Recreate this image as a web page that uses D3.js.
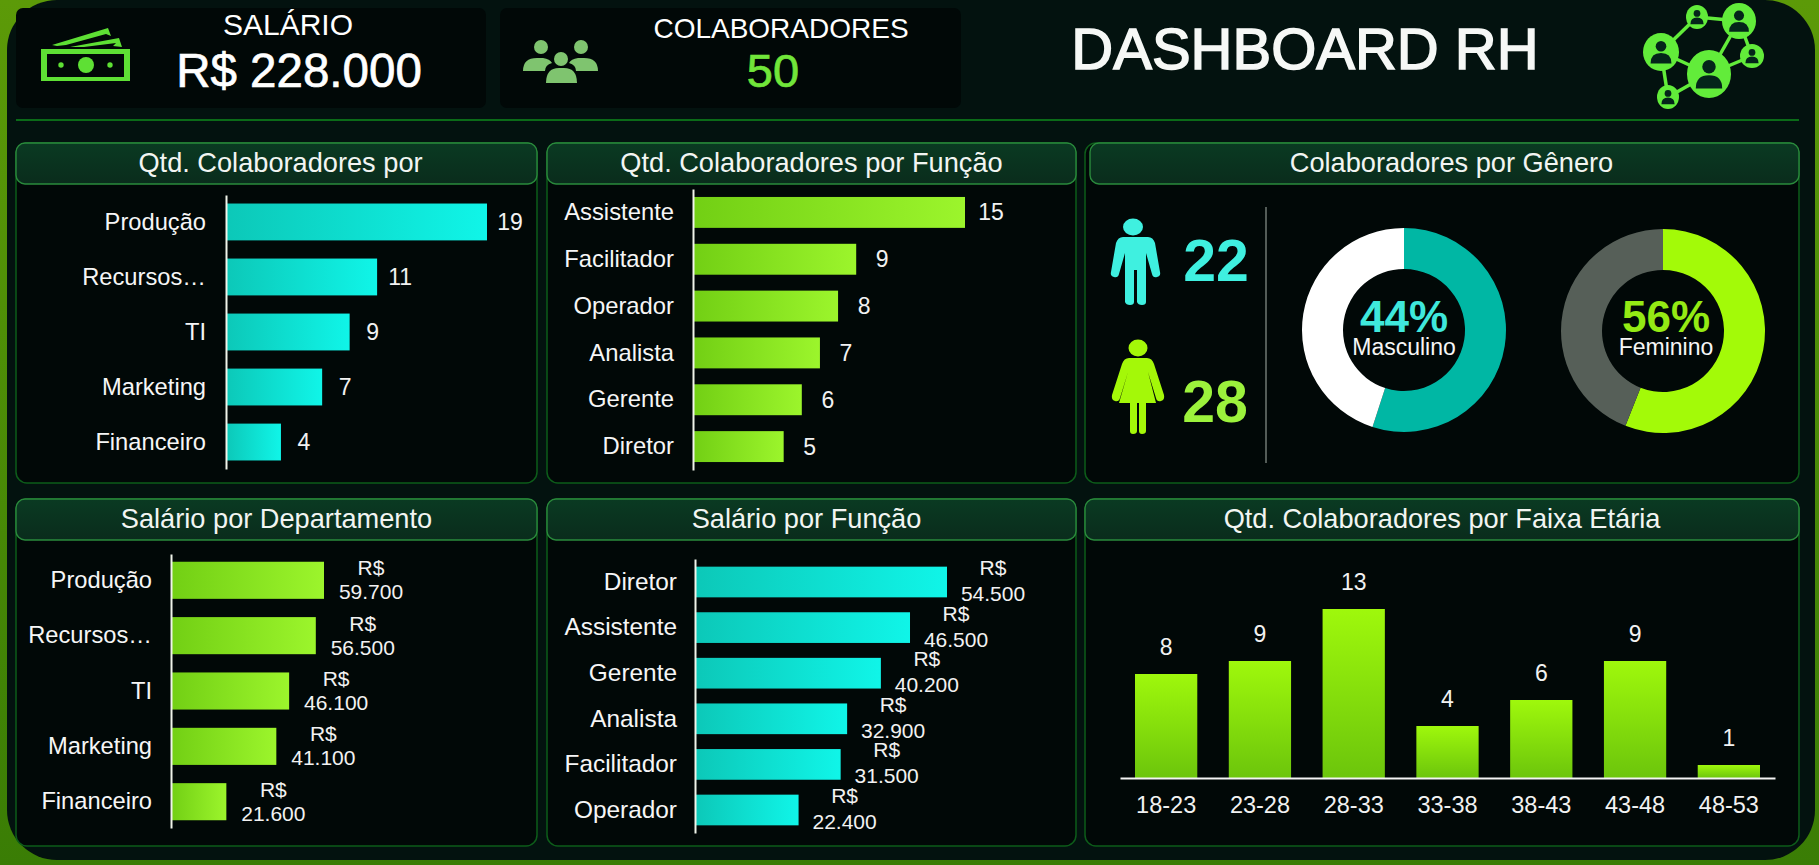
<!DOCTYPE html>
<html lang="pt-BR"><head><meta charset="utf-8"><title>Dashboard RH</title>
<script src="https://cdn.jsdelivr.net/npm/d3@7/dist/d3.min.js"></script>
<style>html,body{margin:0;padding:0;background:#3f7d06;overflow:hidden}svg{display:block}text{font-family:"Liberation Sans",Arial,sans-serif;fill:#fff}</style>
</head><body><svg id="c" width="1819" height="865"></svg>
<script>
// ---- data ----
const departamentos = ["Produção","Recursos…","TI","Marketing","Financeiro"];
const qtdDepartamento = [19,11,9,7,4];
const funcoesQtd = ["Assistente","Facilitador","Operador","Analista","Gerente","Diretor"];
const qtdFuncao = [15,9,8,7,6,5];
const salarioDepartamento = [59700,56500,46100,41100,21600];
const funcoesSalario = ["Diretor","Assistente","Gerente","Analista","Facilitador","Operador"];
const salarioFuncao = [54500,46500,40200,32900,31500,22400];
const faixas = ["18-23","23-28","28-33","33-38","38-43","43-48","48-53"];
const qtdFaixa = [8,9,13,4,6,9,1];
const donutMasculino = [55,45];
const donutFeminino = [56,44];
const totalMasculino = 22, totalFeminino = 28;
const pctMasculino = "44%", pctFeminino = "56%";
const totalSalario = "R$ 228.000", totalColab = "50";

const svg = d3.select("#c");
const defs = svg.append("defs");
function lin(id,a,b,vertical){const g=defs.append("linearGradient").attr("id",id).attr("x1",0).attr("y1",0).attr("x2",vertical?0:1).attr("y2",vertical?1:0);
 g.append("stop").attr("offset",0).attr("stop-color",a);g.append("stop").attr("offset",1).attr("stop-color",b);}
lin("gTeal","#0cc8b8","#10f5e8");lin("gLime","#72cf14","#9cf52c");lin("gCol","#9ff80c","#6cc50c",true);
lin("gBg","#5c9a08","#3a7d05",true);lin("gHead","#0a3a22","#0a2c1c",true);

svg.append("rect").attr("width",1819).attr("height",865).attr("fill","url(#gBg)");
svg.append("rect").attr("x",7).attr("y",0).attr("width",1808).attr("height",860).attr("rx",50).attr("fill","#03120f");

function card(x,y,w,h){svg.append("rect").attr("x",x).attr("y",y).attr("width",w).attr("height",h).attr("rx",7).attr("fill","#010807");}
card(16,8,470,100);card(500,8,461,100);
svg.append("line").attr("x1",16).attr("x2",1799).attr("y1",120).attr("y2",120).attr("stroke","#0f8a1c").attr("stroke-width",1.6);

function txt(s,x,y,size,col,anchor,weight){return svg.append("text").attr("x",x).attr("y",y).attr("font-size",size).attr("text-anchor",anchor||"middle").attr("font-weight",weight||400).style("fill",col||"#fff").text(s);}
txt("SALÁRIO",288,35,30);
txt(totalSalario,299,87,47.5).style("stroke","#fff").style("stroke-width",.7);
txt("COLABORADORES",781,38,28);
txt(totalColab,773,87,47,"#71e63a").style("stroke","#71e63a").style("stroke-width",.7);
txt("DASHBOARD RH",1305,69,58,"#f6f8f6").style("stroke","#f6f8f6").style("stroke-width",1.5);

function panel(x,y,w,h,hx,hw,title,dx){
 svg.append("rect").attr("x",x).attr("y",y).attr("width",w).attr("height",h).attr("rx",11).attr("fill","#010807").attr("stroke","#0d5c1a").attr("stroke-width",1.5);
 svg.append("rect").attr("x",hx).attr("y",y).attr("width",hw).attr("height",41).attr("rx",9).attr("fill","url(#gHead)").attr("stroke","#2a8a3c").attr("stroke-width",1.4);
 txt(title,hx+hw/2+dx,y+29,27.2,"#f2f5f2");
}
panel(16,143,521,340,16,521,"Qtd. Colaboradores por",4);
panel(547,143,529,340,547,529,"Qtd. Colaboradores por Função",0);
panel(1085,143,714,340,1090,709,"Colaboradores por Gênero",7);
panel(16,499,521,347,16,521,"Salário por Departamento",0);
panel(547,499,529,347,547,529,"Salário por Função",-5);
panel(1085,499,714,347,1085,714,"Qtd. Colaboradores por Faixa Etária",0);

const brl = v => d3.format(",")(v).replace(/,/g,".");
function hbar(o){
 const y=d3.scaleBand().domain(o.cats).range(o.yr).paddingInner(o.pi).paddingOuter(o.po);
 const x=d3.scaleLinear().domain([0,o.max]).range([o.x0,o.x1]);
 const g=svg.append("g");
 g.selectAll("rect").data(o.vals).join("rect").attr("x",o.x0).attr("y",(d,i)=>y(o.cats[i])).attr("width",d=>x(d)-o.x0).attr("height",y.bandwidth()).attr("fill",o.fill);
 const ax=svg.append("g").attr("transform",`translate(${o.x0},0)`).call(d3.axisLeft(y).tickSize(0).tickPadding(o.lblPad));
 ax.select(".domain").attr("stroke","#f0f4ea").attr("stroke-width",2);
 ax.selectAll("text").attr("font-size",o.lblSize).attr("font-family","'Liberation Sans',Arial,sans-serif").style("fill","#f6f6f6");
 if(o.money){
  const t=g.selectAll("text").data(o.vals).join("text").attr("font-size",21).attr("text-anchor","middle").style("fill","#f2f2f2");
  t.append("tspan").attr("x",d=>x(d)+o.gap).attr("y",(d,i)=>y(o.cats[i])+y.bandwidth()/2+o.dy[0]).text("R$");
  t.append("tspan").attr("x",d=>x(d)+o.gap).attr("y",(d,i)=>y(o.cats[i])+y.bandwidth()/2+o.dy[1]).text(d=>brl(d));
 } else {
  g.selectAll("text").data(o.vals).join("text").attr("font-size",23).attr("text-anchor","middle").attr("x",d=>x(d)+o.gap).attr("y",(d,i)=>y(o.cats[i])+y.bandwidth()/2+8).style("fill","#f2f2f2").text(d=>d);
 }
}
hbar({cats:departamentos,vals:qtdDepartamento,yr:[195,469],pi:.33,po:.155,x0:226,x1:487,max:19,fill:"url(#gTeal)",lblPad:20,lblSize:23.7,gap:23});
hbar({cats:funcoesQtd,vals:qtdFuncao,yr:[189,470],pi:.34,po:.17,x0:693,x1:965,max:15,fill:"url(#gLime)",lblPad:19,lblSize:23.8,gap:26});
hbar({cats:departamentos,vals:salarioDepartamento,yr:[554,828],pi:.33,po:.14,x0:171,x1:324,max:59700,fill:"url(#gLime)",lblPad:19,lblSize:23.7,gap:47,money:true,dy:[-5,19]});
hbar({cats:funcoesSalario,vals:salarioFuncao,yr:[559,833],pi:.327,po:.168,x0:695,x1:947,max:54500,fill:"url(#gTeal)",lblPad:18,lblSize:24.4,gap:46,money:true,dy:[-7,19]});

// columns
(function(){
 const x=d3.scaleBand().domain(faixas).range([1120,1775]).paddingInner(.336).paddingOuter(.16);
 const y=d3.scaleLinear().domain([0,13]).range([778,609]);
 svg.append("g").selectAll("rect").data(qtdFaixa).join("rect").attr("x",(d,i)=>x(faixas[i])).attr("width",x.bandwidth()).attr("y",d=>y(d)).attr("height",d=>778-y(d)).attr("fill","url(#gCol)");
 svg.append("g").selectAll("text").data(qtdFaixa).join("text").attr("x",(d,i)=>x(faixas[i])+x.bandwidth()/2).attr("y",d=>y(d)-19).attr("text-anchor","middle").attr("font-size",23).style("fill","#f2f2f2").text(d=>d);
 const ax=svg.append("g").attr("transform","translate(0,778)").call(d3.axisBottom(x).tickSize(0).tickPadding(18));
 ax.select(".domain").attr("stroke","#f4f4f4").attr("stroke-width",2);
 ax.selectAll("text").attr("font-size",23.5).attr("font-family","'Liberation Sans',Arial,sans-serif").style("fill","#f2f2f2");
})();

// donuts
function donut(vals,cols,cx,cy){
 const arc=d3.arc().innerRadius(61).outerRadius(102);
 svg.append("g").attr("transform",`translate(${cx},${cy})`).selectAll("path").data(d3.pie().sort(null)(vals)).join("path").attr("d",arc).attr("fill",(d,i)=>cols[i]);
}
donut(donutMasculino,["#00b7a4","#ffffff"],1404,330);
donut(donutFeminino,["#a3fa08","#565f58"],1663,331);
txt(pctMasculino,1404,332,44,"#3fe8dc","middle",700);txt("Masculino",1404,355,23,"#f6f6f6");
txt(pctFeminino,1666,332,44,"#94ea14","middle",700);txt("Feminino",1666,355,23,"#f6f6f6");
svg.append("line").attr("x1",1266).attr("x2",1266).attr("y1",207).attr("y2",463).attr("stroke","#77807a").attr("stroke-width",1.4);
txt(totalMasculino,1216,281,59,"#3ff0e0","middle",700);
txt(totalFeminino,1215,422,59,"#9cf23c","middle",700);

// gender pictograms
svg.append("ellipse").attr("cx",1133).attr("cy",227).attr("rx",10).attr("ry",8.5).attr("fill","#3ff0e0");
svg.append("path").attr("fill","#3ff0e0").attr("d","M1118 237h30q5 0 7 6l5 29q1 4-3 5t-5-3l-6-21v49q0 3-4 3t-5-3v-32h-3v32q0 3-4 3t-5-3v-49l-6 21q-1 4-5 3t-3-5l5-29q2-6 7-6z");
svg.append("ellipse").attr("cx",1138).attr("cy",348).attr("rx",9.5).attr("ry",8.5).attr("fill","#a4f808");
svg.append("path").attr("fill","#a4f808").attr("d","M1129 358H1147Q1152 358 1154 364L1164 395Q1165 400 1161 401Q1157 402 1156 398L1148 372L1156 403H1146V431Q1146 434 1142 434Q1139 434 1139 431V403H1137V431Q1137 434 1133 434Q1130 434 1130 431V403H1119L1128 372L1120 398Q1119 402 1115 401Q1111 400 1112 395L1122 364Q1124 358 1129 358Z");

// money icon
(function(){const c="#5ee034";const g=svg.append("g");
 g.append("path").attr("fill",c).attr("fill-rule","evenodd").attr("d","M41 49H130V81H41ZM47 54V77H124V54Z");
 g.append("circle").attr("cx",86).attr("cy",65).attr("r",8).attr("fill",c);
 g.append("circle").attr("cx",61).attr("cy",65).attr("r",2.7).attr("fill",c);g.append("circle").attr("cx",110).attr("cy",65).attr("r",2.7).attr("fill",c);
 g.append("path").attr("fill",c).attr("d","M52 45L108 28 111 36 106 34 66 45 57 46ZM70 47L119 38 122 47 113 46 116 43 84 47Z");
})();
// people icon
(function(){const c="#7fc46f";const g=svg.append("g").attr("fill",c);
 g.append("ellipse").attr("cx",541).attr("cy",47).attr("rx",7).attr("ry",7);
 g.append("ellipse").attr("cx",581).attr("cy",47).attr("rx",7).attr("ry",7);
 g.append("ellipse").attr("cx",561).attr("cy",59).attr("rx",7).attr("ry",7);
 g.append("path").attr("d","M523 71q0-13 14-13h6q7 1 9 5-7 2-7 8zM598 71q0-13-14-13h-6q-7 1-9 5 7 2 7 8z");
 g.append("path").attr("d","M546 83q0-15 13-15h5q13 0 13 15z");
})();
// network icon
(function(){const c="#62ec3a";
 const nodes=[[1697,17,11,12],[1739,21,17,18],[1661,52,18,19],[1752,56,12,12],[1709,74,22,24],[1668,97,11,12]];
 const edges=[[0,1],[0,2],[1,3],[1,4],[2,4],[2,5],[5,4],[3,4]];
 const g=svg.append("g");
 g.selectAll("line").data(edges).join("line").attr("x1",d=>nodes[d[0]][0]).attr("y1",d=>nodes[d[0]][1]).attr("x2",d=>nodes[d[1]][0]).attr("y2",d=>nodes[d[1]][1]).attr("stroke",c).attr("stroke-width",3.5);
 g.selectAll("ellipse").data(nodes).join("ellipse").attr("cx",d=>d[0]).attr("cy",d=>d[1]).attr("rx",d=>d[2]).attr("ry",d=>d[3]).attr("fill",c);
 nodes.forEach(n=>{const r=n[3];
  g.append("circle").attr("cx",n[0]).attr("cy",n[1]-r*.3).attr("r",r*.28).attr("fill","#04251a");
  g.append("path").attr("fill","#04251a").attr("d",`M${n[0]-r*.55} ${n[1]+r*.6}q0-${r*.55} ${r*.55}-${r*.55}t${r*.55} ${r*.55}z`);
 });
})();
</script></body></html>
